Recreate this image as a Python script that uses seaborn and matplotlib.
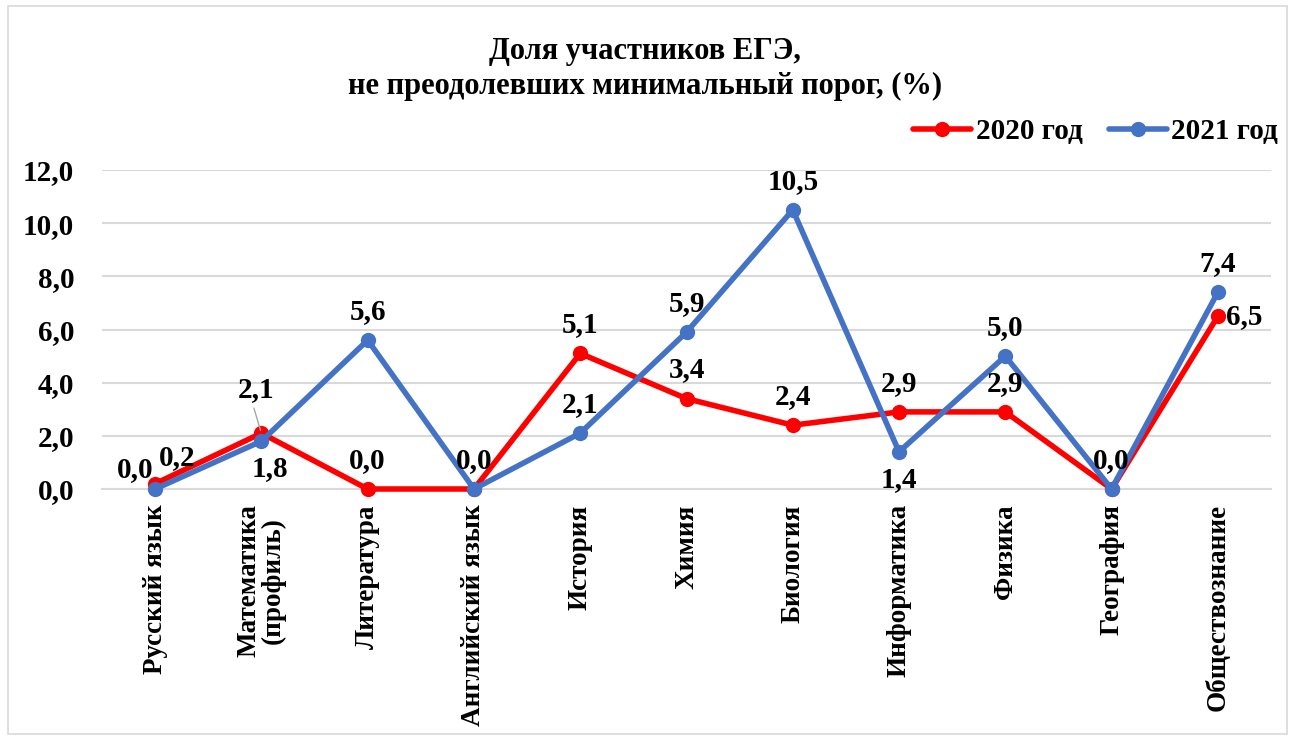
import matplotlib
matplotlib.use("Agg")
import matplotlib.pyplot as plt
import seaborn as sns
import pandas as pd
from matplotlib.patches import Rectangle
from matplotlib.lines import Line2D

categories = ["Русский язык", "Математика\n(профиль)", "Литература", "Английский язык",
              "История", "Химия", "Биология", "Информатика", "Физика", "География",
              "Обществознание"]
values_2020 = [0.2, 2.1, 0.0, 0.0, 5.1, 3.4, 2.4, 2.9, 2.9, 0.0, 6.5]
values_2021 = [0.0, 1.8, 5.6, 0.0, 2.1, 5.9, 10.5, 1.4, 5.0, 0.0, 7.4]
series_names = ["2020 год", "2021 год"]
title_text = "Доля участников ЕГЭ,\nне преодолевших минимальный порог, (%)"
y_ticks = [0, 2, 4, 6, 8, 10, 12]

df = pd.DataFrame({
    "subject": categories * 2,
    "value": values_2020 + values_2021,
    "series": [series_names[0]] * len(categories) + [series_names[1]] * len(categories),
})

sns.set_style("white")
plt.rcParams["font.family"] = ["Liberation Serif", "DejaVu Serif"]
plt.rcParams["font.weight"] = "bold"
plt.rcParams["text.color"] = "black"
plt.rcParams["xtick.color"] = "black"
plt.rcParams["ytick.color"] = "black"
plt.rcParams["xtick.labelcolor"] = "black"
plt.rcParams["ytick.labelcolor"] = "black"

fig = plt.figure(figsize=(12.9, 7.37), dpi=100)
fig.patches.append(Rectangle((8 / 1290, 3 / 737), 1279 / 1290, 728 / 737, transform=fig.transFigure,
                             fill=False, edgecolor="#D9D9D9", linewidth=1.2))
ax = fig.add_axes([102 / 1290, 248 / 737, 1169 / 1290, 319 / 737])

palette = {series_names[0]: "#FF0000", series_names[1]: "#4472C4"}
sns.lineplot(data=df, x="subject", y="value", hue="series", palette=palette, ax=ax,
             marker="o", markersize=11, linewidth=4, markeredgewidth=0, sort=False,
             legend=False, clip_on=False, zorder=3)

ax.set_xlim(-0.5, len(categories) - 0.5)
ax.set_ylim(0, 12)
ax.set_yticks(y_ticks)
ax.set_yticklabels([f"{v:.1f}".replace(".", ",") for v in y_ticks], fontsize=21,
                   fontweight="bold", color="black")
ax.set_xticks(range(len(categories)))
ax.set_xticklabels(categories, rotation=90, fontsize=19.5, fontweight="bold", va="top",
                   linespacing=0.95, color="black")
ax.tick_params(axis="y", length=0, pad=20)
ax.tick_params(axis="x", length=0, pad=11)
ax.set_xlabel("")
ax.set_ylabel("")
ax.grid(axis="y", color="#D9D9D9", linewidth=1.5)
ax.set_axisbelow(True)
for s in ["top", "right", "left"]:
    ax.spines[s].set_visible(False)
ax.spines["bottom"].set_color("#D9D9D9")
ax.spines["bottom"].set_linewidth(1.5)

fmt = lambda v: f"{v:.1f}".replace(".", ",")
LS = 21
# label placement (offsets in points): default above
off20 = {i: (0, 11, "center", "bottom") for i in range(len(categories))}
off21 = {i: (0, 11, "center", "bottom") for i in range(len(categories))}
off20[0] = (3, 9, "left", "bottom")
off21[0] = (-1, 4, "right", "bottom")
off20[1] = (-4, 22, "center", "bottom")
off21[1] = (6, -10, "center", "top")
off21[7] = (0, -10, "center", "top")
off20[10] = (6, 0, "left", "center")
skip21 = {3, 9}
for i, v in enumerate(values_2020):
    dx, dy, ha, va = off20[i]
    ax.annotate(fmt(v), (i, v), xytext=(dx, dy), textcoords="offset points", ha=ha, va=va,
                fontsize=LS, fontweight="bold", color="black", annotation_clip=False, zorder=5)
for i, v in enumerate(values_2021):
    if i in skip21:
        continue
    dx, dy, ha, va = off21[i]
    ax.annotate(fmt(v), (i, v), xytext=(dx, dy), textcoords="offset points", ha=ha, va=va,
                fontsize=LS, fontweight="bold", color="black", annotation_clip=False, zorder=5)
# leader line for math 2020
ax.annotate("", xy=(1, values_2020[1]), xytext=(-6, 20), textcoords="offset points",
            arrowprops=dict(arrowstyle="-", color="#A6A6A6", lw=1), annotation_clip=False)

fig.text(0.5, 1 - 69 / 737, title_text, ha="center", va="center", fontsize=22,
         fontweight="bold", linespacing=1.25, color="black")

handles = [Line2D([0], [0], color=palette[n], lw=4, marker="o", markersize=11, markeredgewidth=0)
           for n in series_names]
leg = fig.legend(handles, series_names, loc="center right",
                 bbox_to_anchor=(1290 / 1290, 1 - 132 / 737),
                 ncol=2, frameon=False, prop={"size": 21, "weight": "bold"}, handlelength=2.0,
                 handletextpad=0.15, columnspacing=0.9, borderaxespad=0)
for t in leg.get_texts():
    t.set_color("black")

fig.savefig("out.png", dpi=100, facecolor="white")
